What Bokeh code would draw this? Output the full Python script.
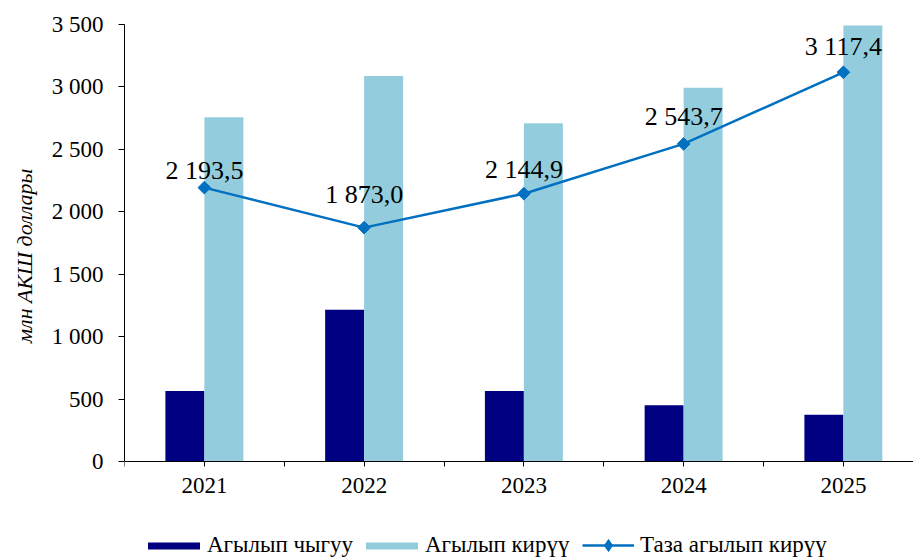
from math import pi
from bokeh.plotting import figure
from bokeh.models import (ColumnDataSource, Range1d, FixedTicker, Legend,
                          LegendItem, Title)
from bokeh.embed import file_html
from bokeh.resources import INLINE
from bokeh.core.properties import value

# ---- data ----
years = ["2021", "2022", "2023", "2024", "2025"]
outflow = [565, 1215, 565, 450, 375]          # Агылып чыгуу
inflow = [2758, 3088, 2710, 2994, 3492]       # Агылып кирүү
net = [2193.5, 1873.0, 2144.9, 2543.7, 3117.4]  # Таза агылып кирүү
y_ticks = [0, 500, 1000, 1500, 2000, 2500, 3000, 3500]

# ---- styling / layout ----
FONT = "Liberation Serif"
C_OUT = "#000080"
C_IN = "#93CDDD"
C_NET = "#0070C0"
label_lift = [17, 33, 24, 27, 26]   # px above the marker (label placement)
BAR_W = 0.244
CAT_PX = 159.75


def fmt_num(v, dec=0):
    s = f"{v:,.{dec}f}"
    return s.replace(",", " ").replace(".", ",")


xs = list(range(1, len(years) + 1))
src = ColumnDataSource(dict(
    x=xs,
    x_out=[x - BAR_W / 2 for x in xs],
    x_in=[x + BAR_W / 2 for x in xs],
    outflow=outflow,
    inflow=inflow,
    net=net,
    lbl=[fmt_num(v, 1) for v in net],
    dy=[-d for d in label_lift],
))

W, H = 913, 557
LEFT, TOP = 124, 24
AXIS_BOTTOM_PX = 461            # pixel row of the value 0
frame_w = W - LEFT
y_px = (AXIS_BOTTOM_PX - TOP) / (y_ticks[-1] - y_ticks[0])
y_start = y_ticks[0] - (H - AXIS_BOTTOM_PX) / y_px

p = figure(width=W, height=H, output_backend="svg", toolbar_location=None,
           x_range=Range1d(0.5, 0.5 + frame_w / CAT_PX),
           y_range=Range1d(y_start, y_ticks[-1]),
           min_border_left=LEFT, min_border_right=0,
           min_border_top=TOP, min_border_bottom=0)
p.outline_line_color = None
p.grid.visible = False
p.background_fill_color = "white"
p.border_fill_color = "white"

bar_out = p.vbar(x="x_out", top="outflow", width=BAR_W, bottom=0, source=src,
                 fill_color=C_OUT, line_color=None)
bar_in = p.vbar(x="x_in", top="inflow", width=BAR_W, bottom=0, source=src,
                fill_color=C_IN, line_color=None)
ln = p.line(x="x", y="net", source=src, line_color=C_NET, line_width=2.5)
mk = p.scatter(x="x", y="net", source=src, marker="square", angle=pi / 4,
               size=9, fill_color=C_NET, line_color=C_NET)
# diamond used only as the legend swatch of the line series
mk_leg = p.scatter(x="x", y="net", source=src, marker="diamond",
                   fill_color=C_NET, line_color=C_NET, visible=False)

p.text(x="x", y="net", text="lbl", y_offset="dy", source=src,
       text_font=value(FONT), text_font_size=value("26px"),
       text_align="center", text_baseline="alphabetic", text_color="black")

# x axis (drawn at value 0)
xa = p.xaxis[0]
xa.fixed_location = 0
xa.ticker = FixedTicker(ticks=xs, minor_ticks=[x - 0.5 for x in xs] + [xs[-1] + 0.5])
xa.major_label_overrides = {x: y for x, y in zip(xs, years)}
xa.major_tick_in = 0
xa.major_tick_out = 5
xa.minor_tick_in = 0
xa.minor_tick_out = 5
xa.major_label_standoff = 11
xa.major_label_text_font = FONT
xa.major_label_text_font_size = "23px"
xa.major_label_text_color = "black"
xa.axis_line_color = "black"
xa.major_tick_line_color = "black"
xa.minor_tick_line_color = "black"

# y axis
ya = p.yaxis[0]
ya.bounds = (y_ticks[0], y_ticks[-1])
ya.ticker = FixedTicker(ticks=y_ticks, minor_ticks=[])
ya.major_label_overrides = {t: fmt_num(t) for t in y_ticks}
ya.major_tick_in = 0
ya.major_tick_out = 6
ya.major_label_standoff = 15
ya.major_label_text_font = FONT
ya.major_label_text_font_size = "23px"
ya.major_label_text_color = "black"
ya.axis_line_color = "black"
ya.major_tick_line_color = "black"

# y title
p.add_layout(Title(text="млн АКШ доллары", align="right", offset=144,
                   vertical_align="top",
                   text_font=FONT, text_font_style="italic",
                   text_font_size="22px", text_color="black",
                   standoff=20), "left")

leg_style = dict(orientation="horizontal", padding=0, margin=0,
                 border_line_color=None, background_fill_alpha=0,
                 label_text_font=FONT, label_text_font_size="23px",
                 label_text_color="black", label_height=30)

legend_bars = Legend(items=[
    LegendItem(label="Агылып чыгуу", renderers=[bar_out]),
    LegendItem(label="Агылып кирүү", renderers=[bar_in]),
], location=(17, -3), glyph_width=65, glyph_height=9, label_standoff=1,
    spacing=6, **leg_style)
legend_line = Legend(items=[
    LegendItem(label="Таза агылып кирүү", renderers=[ln, mk_leg]),
], location=(458, -3), glyph_width=52, glyph_height=30, label_standoff=6,
    **leg_style)
p.add_layout(legend_bars, "center")
p.add_layout(legend_line, "center")

open("out.html", "w").write(file_html(p, INLINE))
